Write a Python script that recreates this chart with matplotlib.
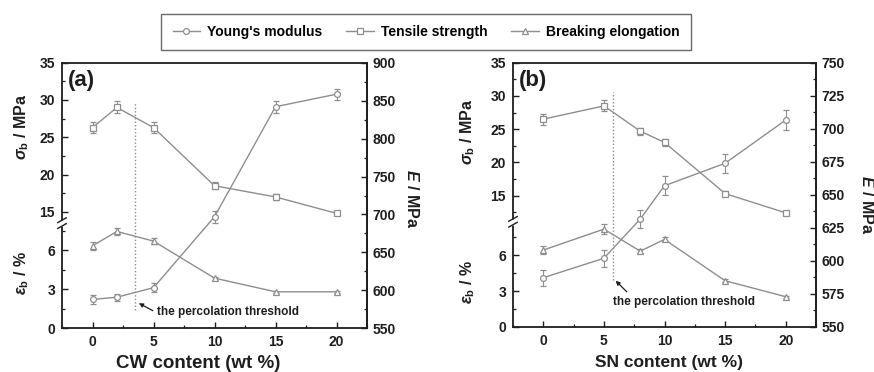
import numpy as np
import matplotlib
matplotlib.use("Agg")
import matplotlib.pyplot as plt
from matplotlib.lines import Line2D

plt.rcParams['font.family'] = ['Liberation Sans', 'DejaVu Sans']
plt.rcParams['font.weight'] = 'bold'
plt.rcParams['mathtext.fontset'] = 'custom'
plt.rcParams['mathtext.rm'] = 'Liberation Sans:bold'
plt.rcParams['mathtext.it'] = 'Liberation Sans:italic:bold'
plt.rcParams['mathtext.bf'] = 'Liberation Sans:bold'

# ---------------- data ----------------
cw_content = [0, 2, 5, 10, 15, 20]
cw_modulus = [588, 591, 603.5, 697, 842, 858.5]
cw_modulus_err = [6, 4.5, 6, 8, 8, 7.5]
cw_strength = [26.3, 29.0, 26.3, 18.5, 17.0, 14.8]
cw_strength_err = [0.7, 0.8, 0.7, 0.45, 0.4, 0.27]
cw_elongation = [6.33, 7.43, 6.69, 3.85, 2.8, 2.8]
cw_elongation_err = [0.32, 0.29, 0.21, 0.12, 0.06, 0.06]
cw_threshold = 3.5

sn_content = [0, 5, 8, 10, 15, 20]
sn_modulus = [587.3, 602, 631.7, 656.9, 673.9, 706.6]
sn_modulus_err = [6, 6.6, 7, 7, 7, 7.8]
sn_strength = [26.5, 28.5, 24.7, 23.0, 15.3, 12.4]
sn_strength_err = [0.83, 0.83, 0.53, 0.5, 0.38, 0.23]
sn_elongation = [6.42, 8.17, 6.33, 7.31, 3.86, 2.53]
sn_elongation_err = [0.36, 0.43, 0.17, 0.17, 0.11, 0.07]
sn_threshold = 5.75

legend_labels = ["Young's modulus", "Tensile strength", "Breaking elongation"]
x_ticks = [0, 5, 10, 15, 20]
left_ticks = [0, 3, 6, 15, 20, 25, 30, 35]
left_minor = [1.5, 4.5, 7.5, 12.5, 17.5, 22.5, 27.5, 32.5]

GRAY = '#8e8e8e'
DARK = '#1e1e1e'

W, H = 874, 372
fig = plt.figure(figsize=(W / 100, H / 100), dpi=100)


def broken_scale(lower_top, upper_bottom, frac, top=35.0):
    def fwd(v):
        v = np.asarray(v, dtype=float)
        lo = v / lower_top * frac
        up = frac + (v - upper_bottom) / (top - upper_bottom) * (1 - frac)
        return np.where(v <= lower_top, lo, np.where(v >= upper_bottom, up, frac))

    def inv(u):
        u = np.asarray(u, dtype=float)
        return np.where(u <= frac, u / frac * lower_top,
                        upper_bottom + (u - frac) / (1 - frac) * (top - upper_bottom))
    return fwd, inv


def panel(rect_px, x, E, Eerr, S, Serr, B, Berr, thr, thr_span, Elim, Emaj, Emin,
          brk, letter, xlabel, xlabel_size, xlabel_x, text_xy, tail_xy, tip_xy):
    l, t, r, b = rect_px
    ax = fig.add_axes([l / W, 1 - b / H, (r - l) / W, (b - t) / H])
    lower_top, upper_bottom, frac = brk
    ax.set_yscale('function', functions=broken_scale(lower_top, upper_bottom, frac))
    ax.set_ylim(0, 35)
    ax.set_xlim(-2.5, 22.5)
    ax.set_yticks(left_ticks)
    ax.set_yticks(left_minor, minor=True)
    ax.set_xticks(x_ticks)
    ax.set_xticks(np.arange(-2.5, 22.6, 2.5), minor=True)
    ax.set_xticklabels([str(v) for v in x_ticks])
    ax.set_yticklabels([str(v) for v in left_ticks])

    ax2 = ax.twinx()
    ax2.set_ylim(*Elim)
    ax2.set_yticks(np.arange(Elim[0], Elim[1] + 0.1, Emaj))
    ax2.set_yticks(np.arange(Elim[0], Elim[1] + 0.1, Emin), minor=True)
    for s in ('left', 'top', 'bottom'):
        ax2.spines[s].set_visible(False)

    for a in (ax, ax2):
        for s in a.spines.values():
            s.set_color(DARK)
            s.set_linewidth(1.3)
    ax.tick_params(axis='both', which='major', direction='in', length=4, width=1,
                   labelsize=10, pad=5, colors=DARK, top=False, right=False)
    ax.tick_params(axis='both', which='minor', direction='in', length=2.2, width=0.9,
                   colors=DARK, top=False, right=False)
    ax2.tick_params(axis='y', which='major', direction='in', length=4, width=1,
                    labelsize=10, pad=4, colors=DARK)
    ax2.tick_params(axis='y', which='minor', direction='in', length=2.2, width=0.9,
                    colors=DARK)

    common = dict(color=GRAY, lw=1.0, mfc='white', mec=GRAY, mew=0.9, ms=4.2,
                  ecolor=GRAY, elinewidth=0.8, capsize=2, capthick=0.8)
    ax.errorbar(x, S, yerr=Serr, marker='s', **common)
    ax.errorbar(x, B, yerr=Berr, marker='^', **common)
    ax2.errorbar(x, E, yerr=Eerr, marker='o', **common)

    # threshold line
    ax2.axvline(thr, ymin=thr_span[0], ymax=thr_span[1], color=GRAY, lw=1.0,
                ls=(0, (1, 1.5)))
    ax2.text(text_xy[0], text_xy[1], 'the percolation threshold', ha='left',
             va='center', fontsize=8.5, fontweight='bold', color=DARK)
    ax2.annotate('', xy=tip_xy, xytext=tail_xy,
                 arrowprops=dict(arrowstyle='-|>', color=DARK, lw=0.9,
                                 mutation_scale=6, shrinkA=0, shrinkB=0))

    # axis break marks on left spine
    ax2.plot([0, 0], [frac - 0.012, frac + 0.012], transform=ax2.transAxes,
             color='white', lw=3.5, clip_on=False, zorder=10, solid_capstyle='butt')
    for dy in (-0.011, 0.011):
        ax2.plot([-0.014, 0.014], [frac + dy - 0.009, frac + dy + 0.009],
                 transform=ax2.transAxes, color=DARK, lw=1.0, clip_on=False, zorder=11)

    ax.text(0.018, 0.932, letter, transform=ax.transAxes, fontsize=16,
            fontweight='bold', ha='left', va='center', color=DARK)
    ax.set_xlabel(xlabel, fontsize=xlabel_size, fontweight='bold', color=DARK)
    ax.xaxis.set_label_coords((xlabel_x - l) / (r - l), (b - 363) / (b - t))
    ax.xaxis.label.set_va('center')
    return ax, ax2


panel((62, 62.7, 367, 328.3), cw_content, cw_modulus, cw_modulus_err, cw_strength,
      cw_strength_err, cw_elongation, cw_elongation_err, cw_threshold, (0.069, 0.853),
      (550, 900), 50, 25, (8.07, 13.49, 0.396), '(a)', 'CW content (wt %)', 13.5, 198.5,
      (5.3, 572.0), (4.95, 573.2), (3.8, 583.0))

panel((513, 62.7, 816, 327), sn_content, sn_modulus, sn_modulus_err, sn_strength,
      sn_strength_err, sn_elongation, sn_elongation_err, sn_threshold, (0.178, 0.89),
      (550, 750), 25, 12.5, (8.78, 11.05, 0.398), '(b)', 'SN content (wt %)', 12.5, 669,
      (5.75, 568.7), (6.88, 576.7), (5.97, 585.0))

# y labels
lab_kw = dict(ha='center', va='center', rotation=90, fontsize=11.5, fontweight='bold',
              color=DARK)
fig.text(21.7 / W, 1 - 126.7 / H, r'$\sigma_{\mathrm{b}}$ / MPa', **lab_kw)
fig.text(21.7 / W, 1 - 273.3 / H, r'$\varepsilon_{\mathrm{b}}$ / %', **lab_kw)
fig.text(467.3 / W, 1 - 132.3 / H, r'$\sigma_{\mathrm{b}}$ / MPa', **lab_kw)
fig.text(467.3 / W, 1 - 281.7 / H, r'$\varepsilon_{\mathrm{b}}$ / %', **lab_kw)
rk = dict(lab_kw)
rk['rotation'] = 270
fig.text(411.7 / W, 1 - 198.3 / H, r'$E$ / MPa', **rk)
fig.text(866.7 / W, 1 - 205 / H, r'$E$ / MPa', **rk)

# legend
hkw = dict(color=GRAY, lw=1.0, mfc='white', mec=GRAY, mew=0.9, ms=4.2)
handles = [Line2D([], [], marker='o', **hkw),
           Line2D([], [], marker='s', **hkw),
           Line2D([], [], marker='^', **hkw)]
leg = fig.legend(handles, legend_labels, loc='center',
                 bbox_to_anchor=(426 / W, 1 - 32 / H), ncol=3, frameon=True,
                 fancybox=False, edgecolor='#444444', borderpad=0.8, handlelength=2,
                 handletextpad=0.5, columnspacing=1.7,
                 prop=dict(weight='bold', size=10))
leg.get_frame().set_linewidth(1.0)

fig.savefig('out.png', dpi=100)
